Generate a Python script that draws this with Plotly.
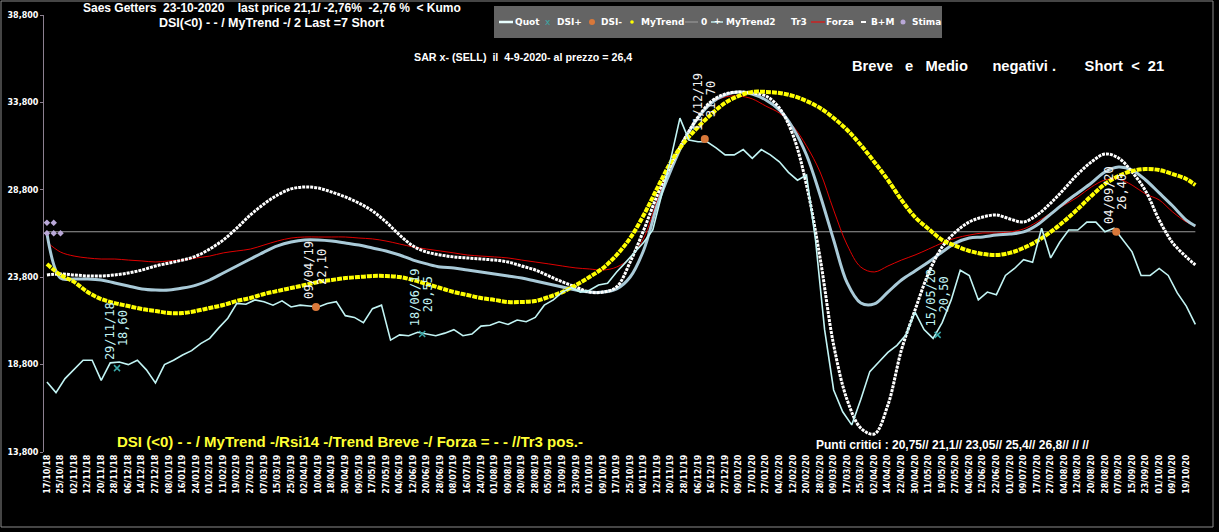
import plotly.graph_objects as go

# ---------------- data ----------------
tick_labels = [
    "17/10/18", "25/10/18", "02/11/18", "12/11/18", "20/11/18", "28/11/18", "06/12/18", "14/12/18",
    "27/12/18", "08/01/19", "16/01/19", "24/01/19", "01/02/19", "11/02/19", "19/02/19", "27/02/19",
    "07/03/19", "15/03/19", "25/03/19", "02/04/19", "10/04/19", "18/04/19", "30/04/19", "09/05/19",
    "17/05/19", "27/05/19", "04/06/19", "12/06/19", "20/06/19", "28/06/19", "08/07/19", "16/07/19",
    "24/07/19", "01/08/19", "09/08/19", "20/08/19", "28/08/19", "05/09/19", "13/09/19", "23/09/19",
    "01/10/19", "09/10/19", "17/10/19", "25/10/19", "04/11/19", "12/11/19", "20/11/19", "28/11/19",
    "06/12/19", "16/12/19", "27/12/19", "09/01/20", "17/01/20", "27/01/20", "04/02/20", "12/02/20",
    "20/02/20", "28/02/20", "09/03/20", "17/03/20", "25/03/20", "02/04/20", "14/04/20", "22/04/20",
    "30/04/20", "11/05/20", "19/05/20", "27/05/20", "04/06/20", "12/06/20", "22/06/20", "01/07/20",
    "09/07/20", "17/07/20", "27/07/20", "04/08/20", "12/08/20", "20/08/20", "28/08/20", "07/09/20",
    "15/09/20", "23/09/20", "01/10/20", "09/10/20", "19/10/20",
]
TICK_STEP = 6          # trading days between labels
QUOT_STEP = 4          # trading days between quote samples
LAST_IDX = 508         # 23/10/2020

# price (every 4 trading days)
quot = [
    17.8, 17.2, 18.0, 18.5, 19.05, 19.05, 17.9, 18.9, 18.95, 18.8,
    19.05, 18.5, 17.75, 18.8, 19.05, 19.35, 19.6, 20.0, 20.3, 20.9,
    21.45, 22.3, 22.25, 22.5, 22.4, 22.2, 22.45, 22.1, 22.2, 22.15,
    22.1, 22.3, 22.4, 21.6, 21.5, 21.2, 22.0, 22.2, 20.2, 20.5,
    20.45, 20.65, 20.55, 20.45, 20.6, 20.8, 20.45, 20.55, 21.0, 21.05,
    21.25, 21.1, 21.35, 21.25, 21.5, 22.2, 22.5, 22.95, 23.2, 22.95,
    23.05, 23.35, 23.45, 24.1, 24.65, 25.25, 25.8, 26.5, 28.5, 30.6,
    32.9, 31.65, 31.55, 31.55, 31.2, 30.8, 30.8, 31.1, 30.6, 31.1,
    30.8, 30.4, 29.8, 29.35, 29.65, 25.9, 20.8, 17.35, 16.1, 15.35,
    16.8, 18.4, 18.95, 19.5, 19.9, 20.5, 21.8, 20.8, 20.3, 21.2,
    22.5, 24.2, 23.9, 22.5, 22.95, 22.8, 23.9, 24.3, 24.8, 24.65,
    26.6, 24.9, 25.8, 26.5, 26.5, 26.95, 26.95, 26.4, 26.6, 25.9,
    25.25, 23.9, 23.9, 24.3, 23.9, 22.9, 22.15, 21.1,
]

# smooth indicators (every 6 trading days, plus last day)
mytrend = [
    24.55, 23.93, 23.53, 22.95, 22.55, 22.32, 22.15, 21.98, 21.87, 21.75,
    21.75, 21.87, 22.04, 22.21, 22.44, 22.61, 22.84, 23.01, 23.18, 23.35,
    23.53, 23.64, 23.75, 23.81, 23.87, 23.87, 23.81, 23.64, 23.41, 23.18,
    22.95, 22.78, 22.61, 22.5, 22.38, 22.38, 22.44, 22.67, 22.95, 23.35,
    23.81, 24.33, 25.07, 26.04, 27.36, 28.9, 30.39, 31.53, 32.39, 33.14,
    33.77, 34.17, 34.4, 34.4, 34.34, 34.17, 33.88, 33.48, 32.91, 32.22,
    31.36, 30.39, 29.36, 28.22, 27.24, 26.56, 25.93, 25.59, 25.3, 25.13,
    25.07, 25.19, 25.47, 25.87, 26.39, 27.01, 27.7, 28.45, 29.13, 29.59,
    29.88, 29.99, 29.93, 29.7, 29.42, 29.07,
]
mytrend2 = [
    23.93, 23.99, 23.93, 23.87, 23.87, 23.93, 24.04, 24.21, 24.44, 24.61,
    24.78, 25.01, 25.41, 25.93, 26.61, 27.36, 27.99, 28.5, 28.85, 28.96,
    28.9, 28.67, 28.39, 28.04, 27.59, 26.96, 26.21, 25.58, 25.24, 25.07,
    24.96, 24.9, 24.84, 24.78, 24.67, 24.44, 24.21, 23.87, 23.53, 23.24,
    22.95, 22.95, 23.24, 24.67, 26.5, 28.5, 30.22, 31.71, 32.96, 33.88,
    34.28, 34.4, 34.34, 34.17, 33.48, 31.94, 29.07, 24.9, 19.92, 16.77,
    15.17, 14.83, 16.49, 19.64, 21.92, 24.04, 25.53, 26.39, 26.96, 27.24,
    27.36, 27.13, 26.96, 27.36, 28.04, 28.85, 29.7, 30.39, 30.85, 30.62,
    29.82, 28.73, 27.07, 25.76, 24.96, 24.5,
]
b_m = [
    26.3, 23.75, 23.7, 23.7, 23.64, 23.47, 23.3, 23.13, 23.07, 23.07,
    23.18, 23.35, 23.64, 24.04, 24.44, 24.84, 25.24, 25.59, 25.81, 25.93,
    25.93, 25.87, 25.76, 25.64, 25.47, 25.3, 25.07, 24.78, 24.56, 24.38,
    24.33, 24.21, 24.1, 23.98, 23.87, 23.75, 23.58, 23.41, 23.24, 23.07,
    22.95, 22.95, 23.13, 23.81, 25.36, 27.93, 29.93, 31.65, 32.91, 33.77,
    34.23, 34.4, 34.28, 33.94, 33.37, 32.34, 30.79, 28.5, 25.93, 23.47,
    22.32, 22.27, 22.95, 23.64, 24.16, 24.67, 25.24, 25.76, 26.04, 26.1,
    26.21, 26.27, 26.39, 26.79, 27.41, 28.04, 28.62, 29.19, 29.82, 30.1,
    29.93, 29.36, 28.62, 27.87, 27.07, 26.73,
]
forza = [
    25.81, 25.24, 25.01, 24.9, 24.84, 24.84, 24.78, 24.73, 24.67, 24.73,
    24.78, 24.9, 25.01, 25.19, 25.3, 25.41, 25.64, 25.87, 26.04, 26.1,
    26.1, 26.1, 26.1, 26.04, 25.99, 25.87, 25.7, 25.53, 25.41, 25.3,
    25.19, 25.07, 25.01, 24.96, 24.9, 24.78, 24.67, 24.56, 24.44, 24.33,
    24.27, 24.21, 24.38, 24.9, 26.04, 28.22, 30.22, 31.76, 32.96, 33.77,
    34.11, 34.17, 34.0, 33.59, 33.19, 32.45, 31.31, 29.82, 27.64, 25.64,
    24.38, 24.1, 24.44, 24.78, 25.07, 25.41, 25.76, 26.04, 26.21, 26.33,
    26.33, 26.39, 26.56, 26.96, 27.47, 27.93, 28.39, 28.96, 29.36, 29.42,
    29.07, 28.56, 28.22, 27.53, 26.96, 26.73,
]
zero_level = 26.4

dsi_plus_idx = [31, 166, 394]
dsi_plus_val = [18.60, 20.55, 20.50]
dsi_plus_date = ["29/11/18", "18/06/19", "15/05/20"]
dsi_minus_idx = [119, 291, 473]
dsi_minus_val = [22.10, 31.70, 26.40]
dsi_minus_date = ["09/04/19", "11/12/19", "04/09/20"]

stima_idx = [0, 3, 0, 3, 6]
stima_val = [26.92, 26.92, 26.32, 26.32, 26.32]

y_ticks = [13.8, 18.8, 23.8, 28.8, 33.8, 38.8]
y_tick_text = ["13,800", "18,800", "23,800", "28,800", "33,800", "38,800"]

# ---------------- geometry helpers (layout only) ----------------
W, H = 1219, 532
ML, MR, MT, MB = 44, 18, 15, 80
PW, PH = W - ML - MR, H - MT - MB


def px(xp):
    return (xp - ML) / PW


def py(yp):
    return (H - MB - yp) / PH


quot_x = [QUOT_STEP * k for k in range(len(quot))]
smooth_x = [TICK_STEP * j for j in range(len(tick_labels))] + [LAST_IDX]
tick_x = [TICK_STEP * j for j in range(len(tick_labels))]

fig = go.Figure()

fig.add_trace(go.Scatter(x=[0, LAST_IDX], y=[zero_level, zero_level], mode="lines",
                         line=dict(color="#9a9a9a", width=1), name="0"))
fig.add_trace(go.Scatter(x=smooth_x, y=forza, mode="lines", line=dict(color="#e00000", width=1),
                         line_shape="spline", name="Forza"))
fig.add_trace(go.Scatter(x=smooth_x, y=b_m, mode="lines", line=dict(color="#a9cad8", width=3),
                         line_shape="spline", name="B+M"))
fig.add_trace(go.Scatter(x=smooth_x, y=mytrend2, mode="lines",
                         line=dict(color="#ffffff", width=3, dash="3px,1px"),
                         line_shape="spline", name="MyTrend2"))
fig.add_trace(go.Scatter(x=smooth_x, y=mytrend, mode="lines",
                         line=dict(color="#ffff00", width=4, dash="5px,1px"),
                         line_shape="spline", name="MyTrend"))
fig.add_trace(go.Scatter(x=quot_x, y=quot, mode="lines", line=dict(color="#c2f4f4", width=1.6),
                         name="Quot"))
fig.add_trace(go.Scatter(x=stima_idx, y=stima_val, mode="markers",
                         marker=dict(color="#b9a8d8", size=5, symbol="diamond"), name="Stima"))
fig.add_trace(go.Scatter(x=dsi_plus_idx, y=dsi_plus_val, mode="markers",
                         marker=dict(color="#3aa8a8", size=6, symbol="x-thin",
                                     line=dict(color="#3aa8a8", width=1.5)), name="DSI+"))
fig.add_trace(go.Scatter(x=dsi_minus_idx, y=dsi_minus_val, mode="markers",
                         marker=dict(color="#d9783a", size=8, symbol="circle"), name="DSI-"))

annotations = []
mono = "DejaVu Sans Mono"


def fmt(v):
    return f"{v:.2f}".replace(".", ",")


for xi, yv, d in zip(dsi_plus_idx, dsi_plus_val, dsi_plus_date):
    annotations.append(dict(x=xi, y=yv, xref="x", yref="y", text=d, textangle=-90, showarrow=False,
                            xanchor="center", yanchor="bottom", xshift=-7, yshift=6,
                            font=dict(family=mono, size=12, color="#c2f4f4")))
    annotations.append(dict(x=xi, y=yv, xref="x", yref="y", text=fmt(yv), textangle=-90, showarrow=False,
                            xanchor="center", yanchor="bottom", xshift=6, yshift=20,
                            font=dict(family=mono, size=12, color="#c2f4f4")))
for xi, yv, d in zip(dsi_minus_idx, dsi_minus_val, dsi_minus_date):
    annotations.append(dict(x=xi, y=yv, xref="x", yref="y", text=d, textangle=-90, showarrow=False,
                            xanchor="center", yanchor="bottom", xshift=-7, yshift=6,
                            font=dict(family=mono, size=12, color="#f4f4f4")))
    annotations.append(dict(x=xi, y=yv, xref="x", yref="y", text=fmt(yv), textangle=-90, showarrow=False,
                            xanchor="center", yanchor="bottom", xshift=6, yshift=20,
                            font=dict(family=mono, size=12, color="#f4f4f4")))

NB = "\u00a0"
arial = "Liberation Sans, Arial"


def sp(s):
    return s.replace(" ", NB)


def txt(xc, yc, s, size, color="#ffffff", anchor="center", family=arial, bold=True):
    annotations.append(dict(x=px(xc), y=py(yc), xref="paper", yref="paper", text=sp(s), showarrow=False,
                            xanchor=anchor, yanchor="middle",
                            font=dict(family=family, size=size, color=color,
                                      weight="bold" if bold else "normal")))


txt(272, 8, "Saes Getters  23-10-2020    last price 21,1/ -2,76%  -2,76 %  &lt; Kumo", 12)
txt(272, 23, "DSI(&lt;0) - - / MyTrend -/ 2 Last =7 Short", 12.5)
txt(412, 57, "SAR x- (SELL)  il  4-9-2020- al prezzo = 26,4", 10.7, anchor="left",
    family="Liberation Sans Narrow, Liberation Sans")
txt(850, 66, "Breve   e   Medio      negativi .       Short  &lt;  21", 14.7, anchor="left")
txt(115, 441, "DSI (&lt;0) - - / MyTrend -/Rsi14 -/Trend Breve -/ Forza = - - //Tr3 pos.-", 15,
    color="#ffff33", anchor="left")
txt(814, 445, "Punti critici : 20,75// 21,1// 23,05// 25,4// 26,8// // //", 12, anchor="left")

# ---- custom legend box ----
shapes = []
shapes.append(dict(type="rect", xref="paper", yref="paper", x0=px(494), x1=px(942), y0=py(38), y1=py(6),
                   fillcolor="#646464", line=dict(width=0), layer="above"))
LY = 22
leg_font = "DejaVu Sans, Verdana"


def leg_text(x, s):
    annotations.append(dict(x=px(x), y=py(LY), xref="paper", yref="paper", text=s, showarrow=False,
                            xanchor="left", yanchor="middle",
                            font=dict(family=leg_font, size=9, color="#ffffff", weight="bold")))


def leg_line(x0, x1, color, width):
    shapes.append(dict(type="line", xref="paper", yref="paper", x0=px(x0), x1=px(x1), y0=py(LY), y1=py(LY),
                       line=dict(color=color, width=width), layer="above"))


def leg_dot(xc, r, color):
    shapes.append(dict(type="circle", xref="paper", yref="paper", x0=px(xc - r), x1=px(xc + r),
                       y0=py(LY + r), y1=py(LY - r), fillcolor=color, line=dict(width=0), layer="above"))


leg_line(499, 513, "#e8ffff", 2.5)
leg_text(513, "Quot")
annotations.append(dict(x=px(548), y=py(LY), xref="paper", yref="paper", text="x", showarrow=False,
                        xanchor="center", yanchor="middle",
                        font=dict(family=leg_font, size=9, color="#3aa8a8")))
leg_text(555, "DSI+")
leg_dot(592, 3, "#d9783a")
leg_text(599, "DSI-")
leg_dot(632, 1.8, "#ffff00")
leg_text(639, "MyTrend")
leg_line(685, 698, "#a0a0a0", 1)
leg_text(699, "0")
leg_line(711, 723, "#bfeaea", 1.5)
annotations.append(dict(x=px(717), y=py(LY), xref="paper", yref="paper", text="+", showarrow=False,
                        xanchor="center", yanchor="middle",
                        font=dict(family=leg_font, size=8, color="#ffffff", weight="bold")))
leg_text(724, "MyTrend2")
leg_text(789, "Tr3")
leg_line(811, 825, "#ff0000", 1)
leg_text(824, "Forza")
leg_line(861, 866, "#ffffff", 2)
leg_text(869, "B+M")
leg_dot(903, 2.5, "#b9a8d8")
leg_text(910, "Stima")

# outer frame
shapes.append(dict(type="rect", xref="paper", yref="paper", x0=px(1), x1=px(1213), y0=py(527), y1=py(1),
                   line=dict(color="#8a8a8a", width=1), layer="above"))

fig.update_layout(
    width=W, height=H, autosize=False,
    margin=dict(l=ML, r=MR, t=MT, b=MB, pad=0),
    paper_bgcolor="#000000", plot_bgcolor="#000000",
    showlegend=False,
    annotations=annotations, shapes=shapes,
    xaxis=dict(range=[-1.3, 510.5], tickmode="array", tickvals=tick_x, ticktext=tick_labels,
               tickangle=-90, showgrid=False, zeroline=False, showline=False, ticks="",
               automargin=False,
               tickfont=dict(family="DejaVu Sans, Verdana", size=8, color="#ffffff", weight="bold")),
    yaxis=dict(range=[13.8, 38.8], tickmode="array", tickvals=y_ticks, ticktext=y_tick_text,
               showgrid=False, zeroline=False, showline=True, linecolor="#8c8090", linewidth=1,
               ticks="outside", ticklen=3, tickcolor="#8c8090", automargin=False,
               tickfont=dict(family="DejaVu Sans, Verdana", size=8, color="#ffffff", weight="bold")),
)

fig.write_html("out.html")
